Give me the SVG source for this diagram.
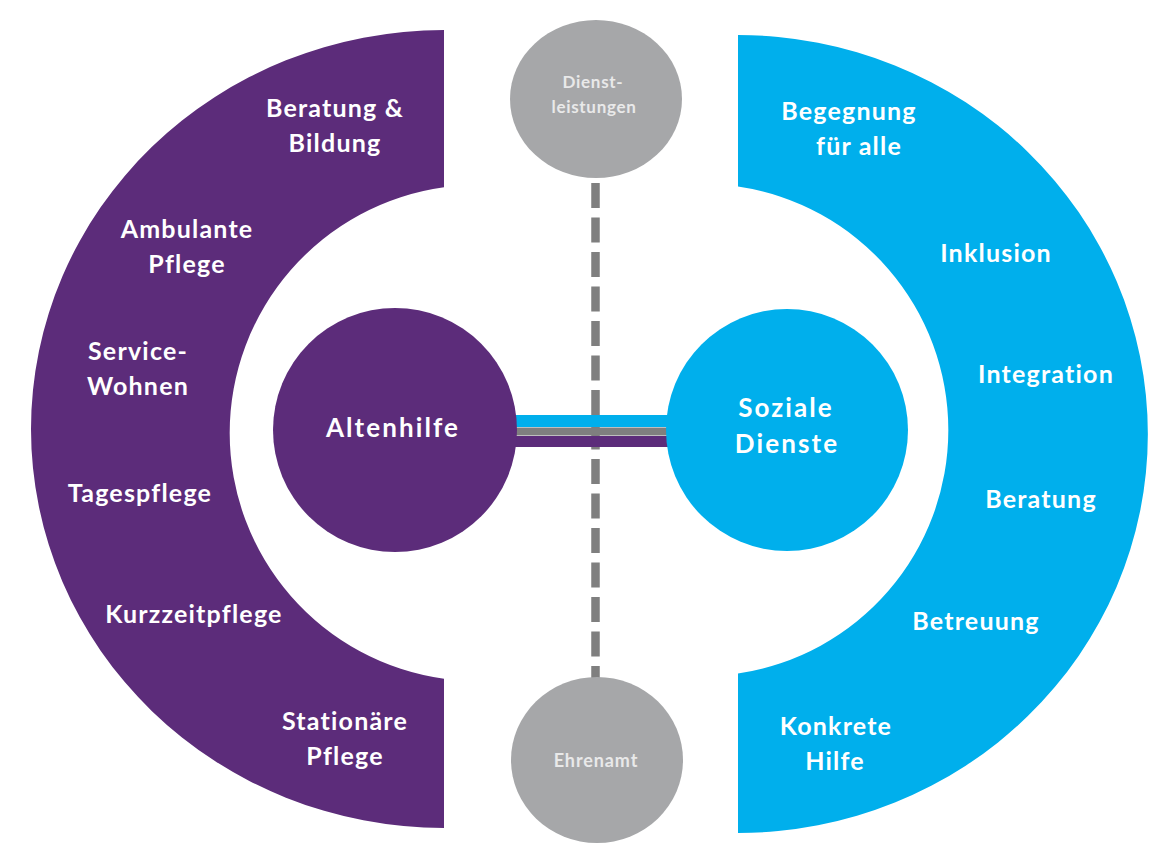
<svg xmlns="http://www.w3.org/2000/svg" width="1153" height="843" viewBox="0 0 1153 843">
<style>
.t{fill:#ffffff;font-family:Lato,"Open Sans","Liberation Sans",sans-serif;font-weight:700;font-size:25px;letter-spacing:1.2px;text-anchor:middle}
.c{fill:#ffffff;font-family:Lato,"Open Sans","Liberation Sans",sans-serif;font-weight:700;font-size:26px;letter-spacing:2.1px;text-anchor:middle}
.g{fill:#e9e9e9;font-family:Lato,"Open Sans","Liberation Sans",sans-serif;font-weight:700;font-size:17px;letter-spacing:0.7px;text-anchor:middle}
.purple{fill:#5c2c7a}
.blue{fill:#00afec}
.grey{fill:#a6a7a9}
</style>
<rect width="1153" height="843" fill="#ffffff"/>
<g id="arc-altenhilfe">
<path class="purple" d="M444,30 A413,399 0 0 0 444,828 L444,678.7 A248,248 0 0 1 444,187.3 Z"/>
<text class="t" x="335" y="117">Beratung &amp;</text>
<text class="t" x="335" y="152">Bildung</text>
<text class="t" x="187" y="238">Ambulante</text>
<text class="t" x="187" y="273">Pflege</text>
<text class="t" x="138" y="360">Service-</text>
<text class="t" x="138" y="395">Wohnen</text>
<text class="t" x="140" y="502">Tagespflege</text>
<text class="t" x="194" y="623">Kurzzeitpflege</text>
<text class="t" x="345" y="730">Stationäre</text>
<text class="t" x="345" y="765">Pflege</text>
</g>
<g id="arc-soziale-dienste">
<path class="blue" d="M738,35 A410,399 0 0 1 738,833 L738,673.4 A246,246 0 0 0 738,186.6 Z"/>
<text class="t" x="849" y="120">Begegnung</text>
<text class="t" x="859" y="155">für alle</text>
<text class="t" x="996" y="262">Inklusion</text>
<text class="t" x="1046" y="383">Integration</text>
<text class="t" x="1041" y="508">Beratung</text>
<text class="t" x="976" y="630">Betreuung</text>
<text class="t" x="836" y="735">Konkrete</text>
<text class="t" x="835" y="770">Hilfe</text>
</g>
<g id="connectors">
<line x1="595.5" y1="183" x2="595.5" y2="678" stroke="#7f7f7f" stroke-width="8.5" stroke-dasharray="25 9.5"/>
<rect x="505" y="415" width="175" height="12" fill="#00afec"/>
<rect x="505" y="427.5" width="175" height="8" fill="#7f7f7f"/>
<rect x="505" y="436" width="175" height="11" fill="#5c2c7a"/>
</g>
<g id="node-altenhilfe">
<circle class="purple" cx="395" cy="430" r="122"/>
<text class="c" x="393" y="437">Altenhilfe</text>
</g>
<g id="node-soziale-dienste">
<circle class="blue" cx="787" cy="430" r="121"/>
<text class="c" x="786" y="417">Soziale</text>
<text class="c" x="787" y="453">Dienste</text>
</g>
<g id="node-dienstleistungen">
<ellipse class="grey" cx="596" cy="99" rx="86" ry="79"/>
<text class="g" x="593" y="88">Dienst-</text>
<text class="g" x="594" y="113">leistungen</text>
</g>
<g id="node-ehrenamt">
<ellipse class="grey" cx="597" cy="760" rx="86" ry="83"/>
<text class="g" x="596" y="767" style="font-size:18px;letter-spacing:0.9px">Ehrenamt</text>
</g>
</svg>
